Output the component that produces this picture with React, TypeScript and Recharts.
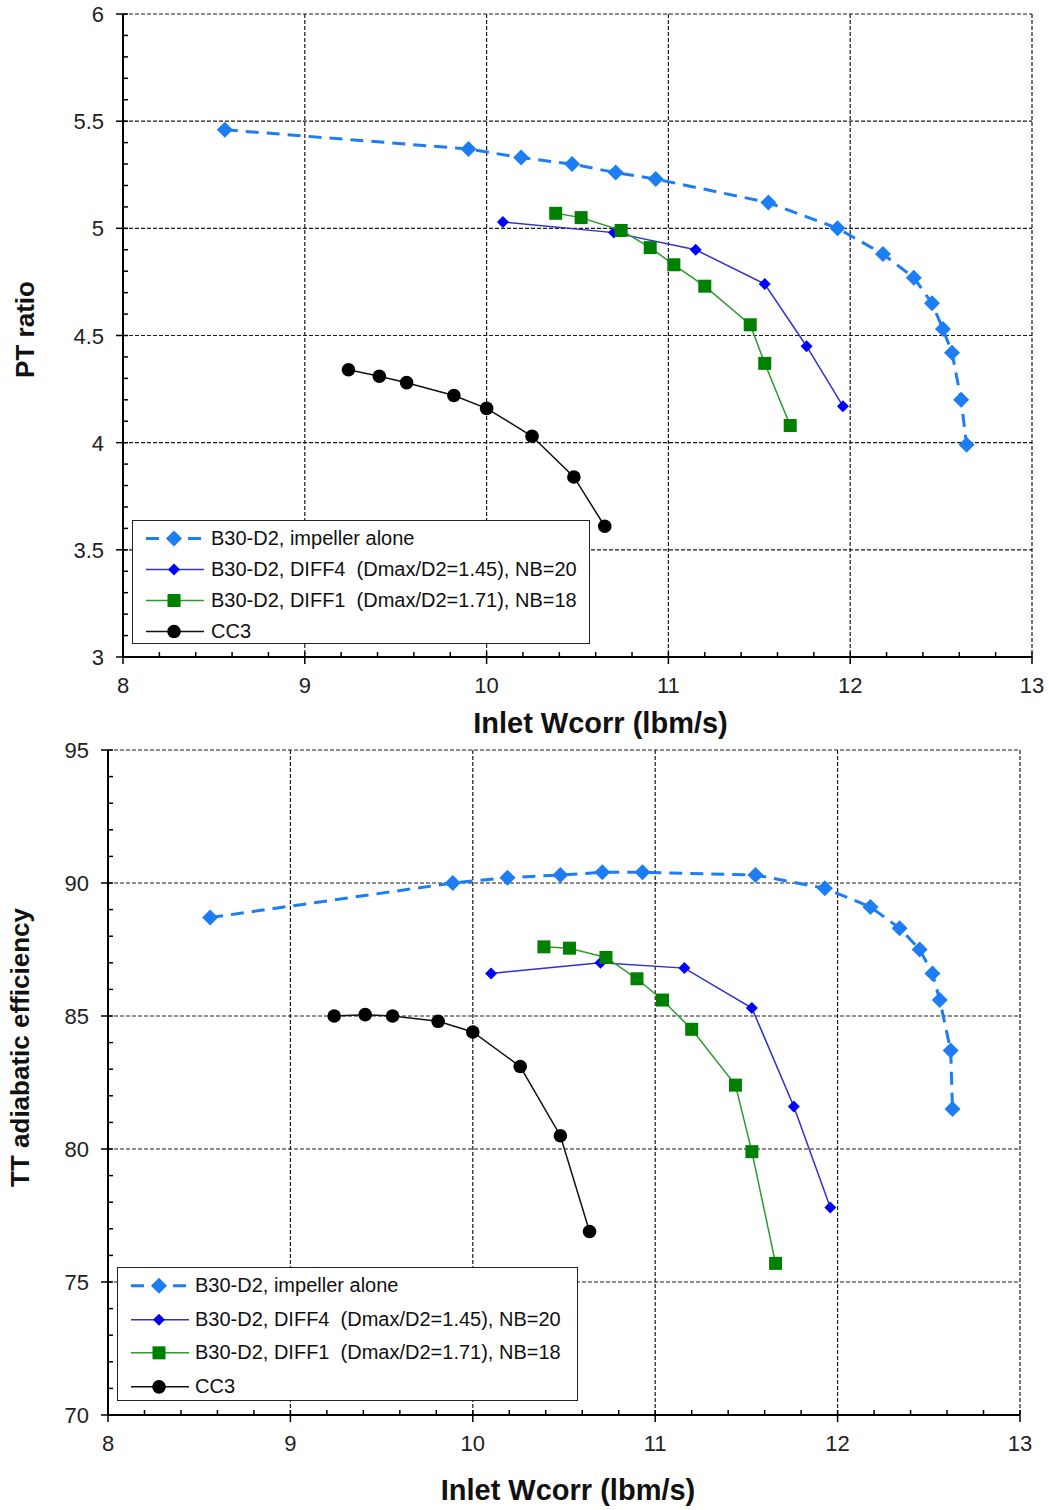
import React from "react";
import { CartesianGrid, Label, Legend, Scatter, ScatterChart, XAxis, YAxis } from "recharts";

const FONT = "Arial, 'Liberation Sans', Helvetica, sans-serif";

// Inlet Wcorr (lbm/s) vs PT ratio
const prImpeller = [
  [8.56, 5.46], [9.9, 5.37], [10.19, 5.33], [10.47, 5.3], [10.71, 5.26], [10.93, 5.23], [11.55, 5.12],
  [11.93, 5.0], [12.18, 4.88], [12.35, 4.77], [12.45, 4.65], [12.51, 4.53], [12.56, 4.42], [12.61, 4.2], [12.64, 3.99],
];
const prDiff4 = [[10.09, 5.03], [10.7, 4.98], [11.15, 4.9], [11.53, 4.74], [11.76, 4.45], [11.96, 4.17]];
const prDiff1 = [
  [10.38, 5.07], [10.52, 5.05], [10.74, 4.99], [10.9, 4.91], [11.03, 4.83], [11.2, 4.73], [11.45, 4.55], [11.53, 4.37], [11.67, 4.08],
];
const prCC3 = [[9.24, 4.34], [9.41, 4.31], [9.56, 4.28], [9.82, 4.22], [10.0, 4.16], [10.25, 4.03], [10.48, 3.84], [10.65, 3.61]];

// Inlet Wcorr (lbm/s) vs TT adiabatic efficiency
const effImpeller = [
  [8.56, 88.7], [9.89, 90.0], [10.19, 90.2], [10.48, 90.3], [10.71, 90.4], [10.93, 90.4], [11.55, 90.3],
  [11.93, 89.8], [12.18, 89.1], [12.34, 88.3], [12.45, 87.5], [12.52, 86.6], [12.56, 85.6], [12.62, 83.7], [12.63, 81.5],
];
const effDiff4 = [[10.1, 86.6], [10.7, 87.0], [11.16, 86.8], [11.53, 85.3], [11.76, 81.6], [11.96, 77.8]];
const effDiff1 = [
  [10.39, 87.6], [10.53, 87.55], [10.73, 87.2], [10.9, 86.4], [11.04, 85.6], [11.2, 84.5], [11.44, 82.4], [11.53, 79.9], [11.66, 75.7],
];
const effCC3 = [[9.24, 85.0], [9.41, 85.05], [9.56, 85.0], [9.81, 84.8], [10.0, 84.4], [10.26, 83.1], [10.48, 80.5], [10.64, 76.9]];

const xMajor = [8, 9, 10, 11, 12, 13];
const prMajor = [3, 3.5, 4, 4.5, 5, 5.5, 6];
const effMajor = [70, 75, 80, 85, 90, 95];

const seriesNames = [
  "B30-D2, impeller alone",
  "B30-D2, DIFF4  (Dmax/D2=1.45), NB=20",
  "B30-D2, DIFF1  (Dmax/D2=1.71), NB=18",
  "CC3",
];

type Style = { marker: "diamond" | "square" | "circle"; color: string; line: string; width: number; dash?: string; size: number };

const styles: Style[] = [
  { marker: "diamond", color: "#1d7df4", line: "#1d7df4", width: 3, dash: "13 8", size: 8 },
  { marker: "diamond", color: "#0000ff", line: "#3030d0", width: 1.5, size: 6 },
  { marker: "square", color: "#008000", line: "#2e9b2e", width: 1.5, size: 6.5 },
  { marker: "circle", color: "#000000", line: "#111111", width: 1.5, size: 6.8 },
];

const pts = (a: number[][]) => a.map(([x, y]) => ({ x, y }));

function steps(min: number, max: number, step: number) {
  const n = Math.round((max - min) / step);
  const out: number[] = [];
  for (let i = 0; i <= n; i++) out.push(Math.round((min + i * step) * 1000) / 1000);
  return out;
}

function Marker({ kind, cx, cy, color, size }: { kind: string; cx: number; cy: number; color: string; size: number }) {
  if (cx == null || cy == null) return null;
  if (kind === "diamond") {
    return <path d={`M${cx},${cy - size}L${cx + size},${cy}L${cx},${cy + size}L${cx - size},${cy}Z`} fill={color} />;
  }
  if (kind === "square") {
    return <rect x={cx - size} y={cy - size} width={size * 2} height={size * 2} fill={color} />;
  }
  return <circle cx={cx} cy={cy} r={size} fill={color} />;
}

function LegendBox({ width, height, rowH, padTop, sampleX, textX }: any) {
  return (
    <div
      style={{
        width,
        height,
        boxSizing: "border-box",
        border: "1.5px solid #222",
        background: "#fff",
        position: "relative",
        fontFamily: FONT,
        fontSize: 20,
        color: "#111",
      }}
    >
      {seriesNames.map((name, i) => {
        const s = styles[i];
        const cy = rowH / 2;
        return (
          <div key={name} style={{ position: "absolute", left: 0, top: padTop + i * rowH, height: rowH, width: "100%" }}>
            <svg width={textX} height={rowH} style={{ position: "absolute", left: 0, top: 0 }}>
              <line x1={sampleX} x2={sampleX + 58} y1={cy} y2={cy} stroke={s.line} strokeWidth={s.width} strokeDasharray={s.dash} />
              <Marker kind={s.marker} cx={sampleX + 28} cy={cy} color={s.color} size={s.size} />
            </svg>
            <span style={{ position: "absolute", left: textX, top: 0, lineHeight: `${rowH}px`, whiteSpace: "pre" }}>{name}</span>
          </div>
        );
      })}
    </div>
  );
}

function makeXTick(major: number[]) {
  return (props: any) => {
    const { x, y, payload } = props;
    const isMajor = major.includes(payload.value);
    return (
      <g>
        <line x1={x} x2={x} y1={y - 5} y2={isMajor ? y + 7 : y} stroke="#000" strokeWidth={1.5} />
        {isMajor && (
          <text x={x} y={y + 36} textAnchor="middle" fontSize={22} fontFamily={FONT} fill="#222">
            {payload.value}
          </text>
        )}
      </g>
    );
  };
}

function makeYTick(major: number[]) {
  return (props: any) => {
    const { x, y, payload } = props;
    const isMajor = major.includes(payload.value);
    return (
      <g>
        <line x1={isMajor ? x - 7 : x} x2={x + 5} y1={y} y2={y} stroke="#000" strokeWidth={1.5} />
        {isMajor && (
          <text x={x - 19} y={y + 8} textAnchor="end" fontSize={22} fontFamily={FONT} fill="#222">
            {payload.value}
          </text>
        )}
      </g>
    );
  };
}

type PanelProps = {
  top: number;
  height: number;
  margin: { top: number; right: number; bottom: number; left: number };
  yDomain: [number, number];
  yMajor: number[];
  yStep: number;
  data: number[][][];
  yTitle: string;
  yTitleDx: number;
  yTitleDy: number;
  xTitleDx: number;
  xTitleDy: number;
  legend: { left: number; top: number; width: number; height: number; rowH: number; padTop: number; sampleX: number; textX: number };
};

function Panel(p: PanelProps) {
  const xTicks = steps(8, 13, 0.2);
  const yTicks = steps(p.yDomain[0], p.yDomain[1], p.yStep);
  return (
    <div style={{ position: "absolute", left: 0, top: p.top }}>
      <ScatterChart width={1049} height={p.height} margin={p.margin}>
        <CartesianGrid
          stroke="#1a1a1a"
          strokeDasharray="4 2"
          strokeWidth={1.2}
          verticalValues={xMajor}
          horizontalValues={p.yMajor}
        />
        <XAxis
          type="number"
          dataKey="x"
          domain={[8, 13]}
          ticks={xTicks}
          interval={0}
          height={60}
          tickSize={0}
          tickMargin={0}
          tick={makeXTick(xMajor)}
          axisLine={{ stroke: "#000", strokeWidth: 2 }}
          allowDataOverflow
        >
          <Label
            content={({ viewBox }: any) => (
              <text
                x={viewBox.x + viewBox.width / 2 + p.xTitleDx}
                y={viewBox.y + p.xTitleDy}
                textAnchor="middle"
                fontSize={29}
                fontWeight="bold"
                fontFamily={FONT}
                fill="#111"
              >
                Inlet Wcorr (lbm/s)
              </text>
            )}
          />
        </XAxis>
        <YAxis
          type="number"
          dataKey="y"
          domain={p.yDomain}
          ticks={yTicks}
          interval={0}
          width={60}
          tickSize={0}
          tickMargin={0}
          tick={makeYTick(p.yMajor)}
          axisLine={{ stroke: "#000", strokeWidth: 2 }}
          allowDataOverflow
        >
          <Label
            content={({ viewBox }: any) => {
              const cx = viewBox.x + p.yTitleDx;
              const cy = viewBox.y + viewBox.height / 2 + p.yTitleDy;
              return (
                <text
                  x={cx}
                  y={cy}
                  transform={`rotate(-90 ${cx} ${cy})`}
                  textAnchor="middle"
                  dominantBaseline="central"
                  fontSize={26}
                  fontWeight="bold"
                  fontFamily={FONT}
                  fill="#111"
                >
                  {p.yTitle}
                </text>
              );
            }}
          />
        </YAxis>
        <Legend
          layout="horizontal"
          verticalAlign="middle"
          align="center"
          wrapperStyle={{ left: p.legend.left, top: p.legend.top, width: p.legend.width }}
          content={() => <LegendBox {...p.legend} />}
        />
        {p.data.map((d, i) => {
          const s = styles[i];
          return (
            <Scatter
              key={seriesNames[i]}
              name={seriesNames[i]}
              data={pts(d)}
              fill={s.color}
              line={{ stroke: s.line, strokeWidth: s.width, strokeDasharray: s.dash }}
              lineJointType="linear"
              shape={(sp: any) => <Marker kind={s.marker} cx={sp.cx} cy={sp.cy} color={s.color} size={s.size} />}
              isAnimationActive={false}
            />
          );
        })}
      </ScatterChart>
    </div>
  );
}

export default function App() {
  return (
    <div style={{ position: "absolute", left: 0, top: 0, width: 1049, height: 1510, background: "#fff", fontFamily: FONT }}>
      <Panel
        top={0}
        height={745}
        margin={{ top: 14, right: 17, bottom: 28, left: 63 }}
        yDomain={[3, 6]}
        yMajor={prMajor}
        yStep={0.1}
        data={[prImpeller, prDiff4, prDiff1, prCC3]}
        yTitle="PT ratio"
        yTitleDx={-38}
        yTitleDy={-6}
        xTitleDx={23}
        xTitleDy={76}
        legend={{ left: 132, top: 520, width: 458, height: 124, rowH: 31, padTop: 2, sampleX: 13, textX: 78 }}
      />
      <Panel
        top={735}
        height={775}
        margin={{ top: 15, right: 29, bottom: 35, left: 48 }}
        yDomain={[70, 95]}
        yMajor={effMajor}
        yStep={1}
        data={[effImpeller, effDiff4, effDiff1, effCC3]}
        yTitle="TT adiabatic efficiency"
        yTitleDx={-28}
        yTitleDy={-35}
        xTitleDx={4}
        xTitleDy={85}
        legend={{ left: 117, top: 532, width: 461, height: 134, rowH: 33.7, padTop: 1, sampleX: 13, textX: 77 }}
      />
    </div>
  );
}
